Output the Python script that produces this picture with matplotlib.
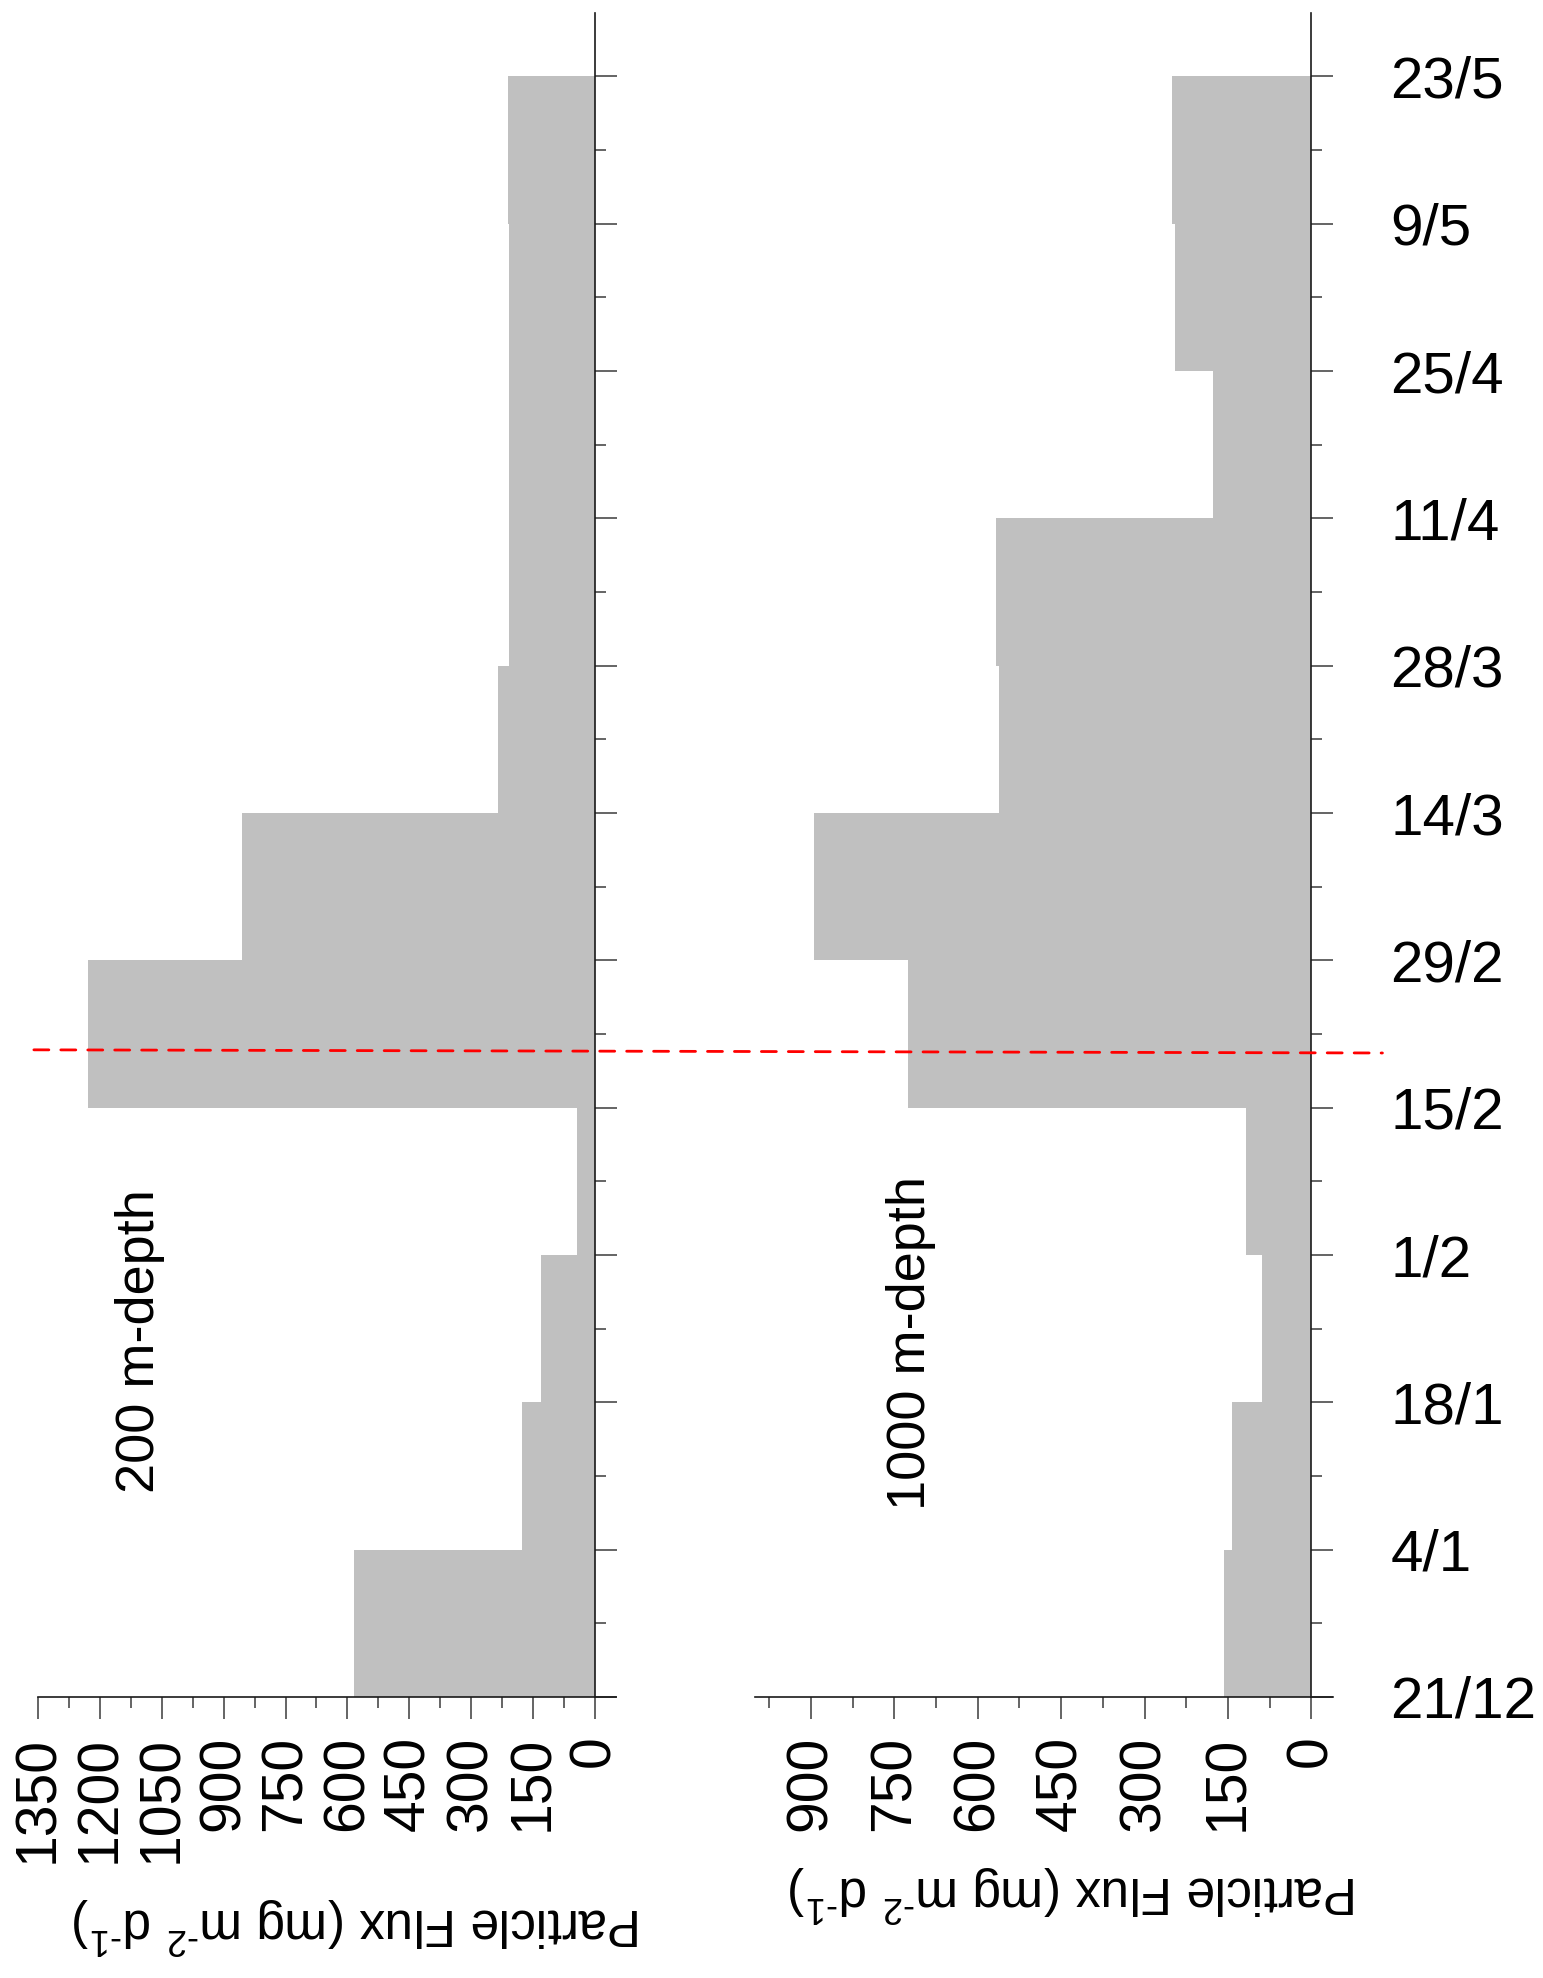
import numpy as np
import matplotlib
matplotlib.use("Agg")
import matplotlib.pyplot as plt
from matplotlib.ticker import MultipleLocator, FixedLocator
from matplotlib.patches import ConnectionPatch

plt.rcParams['font.family'] = ['Liberation Sans', 'DejaVu Sans']
plt.rcParams['mathtext.fontset'] = 'custom'
plt.rcParams['mathtext.rm'] = 'Liberation Sans'
plt.rcParams['mathtext.it'] = 'Liberation Sans:italic'
plt.rcParams['mathtext.bf'] = 'Liberation Sans:bold'

# ---------------- data ----------------
period_starts = ['2007-12-21', '2008-01-04', '2008-01-18', '2008-02-01', '2008-02-15',
                 '2008-02-29', '2008-03-14', '2008-03-28', '2008-04-11', '2008-04-25',
                 '2008-05-09']
tick_dates = period_starts + ['2008-05-23']
flux_200m = [585, 177, 130, 43, 1230, 855, 235, 208, 208, 208, 210]
flux_1000m = [157, 143, 88, 117, 725, 895, 562, 567, 176, 245, 250]
panel_labels = ['200 m-depth', '1000 m-depth']
flux_ticks_200 = [0, 150, 300, 450, 600, 750, 900, 1050, 1200, 1350]
flux_ticks_1000 = [0, 150, 300, 450, 600, 750, 900]
# red dashed marker line (days since first tick date), left end / right end
red_line_days = (61.5, 61.2)
red_line_flux = (1361, -128)

t0 = np.datetime64(tick_dates[0])
tick_days = [(np.datetime64(d) - t0).astype(int) for d in tick_dates]
start_days = [(np.datetime64(d) - t0).astype(int) for d in period_starts]
widths = [b - a for a, b in zip(tick_days[:-1], tick_days[1:])]
tick_labels = []
for d in tick_dates:
    y, m, dd = d.split('-')
    tick_labels.append(f"{int(dd)}/{int(m)}")

W, H = 1543, 1978
fig = plt.figure(figsize=(W / 100, H / 100), dpi=100)

bottom = 1 - 1697 / H
height = (1697 - 13.3) / H
ax1 = fig.add_axes([38.4 / W, bottom, (616 - 38.4) / W, height])
ax2 = fig.add_axes([755.4 / W, bottom, (1333.3 - 755.4) / W, height])

bar_color = '#c0c0c0'
spine_col = '#1a1a1a'
tick_col = '#3a3a3a'

xlabel = r'Particle Flux (mg m$^{\text{-2}}$ d$^{\text{-1}}$)'

for ax, vals, xl, ticks, lab, txy in [
        (ax1, flux_200m, (1350, -52), flux_ticks_200, panel_labels[0], (1104, 33.8)),
        (ax2, flux_1000m, (1000, -39.6), flux_ticks_1000, panel_labels[1], (720, 33.6))]:
    ax.barh(start_days, vals, height=widths, left=0, align='edge',
            color=bar_color, edgecolor='none', linewidth=0, zorder=1)
    ax.set_xlim(*xl)
    ax.set_ylim(tick_days[0], tick_days[-1] + 6)
    for s in ['top', 'left']:
        ax.spines[s].set_visible(False)
    ax.spines['right'].set_position(('data', 0))
    ax.spines['bottom'].set_position(('data', tick_days[0]))
    for s in ['right', 'bottom']:
        ax.spines[s].set_color(spine_col)
        ax.spines[s].set_linewidth(1.2)
        ax.spines[s].set_zorder(3)
    ax.yaxis.set_ticks_position('right')
    ax.xaxis.set_ticks_position('bottom')
    ax.xaxis.set_major_locator(FixedLocator(ticks))
    ax.xaxis.set_minor_locator(MultipleLocator(75))
    ax.set_xticklabels([str(t) for t in ticks], rotation=90)
    ax.yaxis.set_major_locator(FixedLocator(tick_days))
    ax.yaxis.set_minor_locator(FixedLocator([d + 7 for d in tick_days[:-1]]))
    ax.tick_params(axis='both', which='major', direction='out', length=15.8,
                   width=1.1, color=tick_col)
    ax.tick_params(axis='both', which='minor', direction='out', length=7.9,
                   width=1.1, color=tick_col)
    ax.tick_params(axis='x', which='major', labelsize=41, pad=12)
    ax.set_xlabel(xlabel, fontsize=37, rotation=180)
    ax.text(txy[0], txy[1], lab, rotation=90, ha='center', va='center', fontsize=39)
    ax.patch.set_visible(False)

ax1.xaxis.set_label_coords(0.552, -198 / (height * H))
ax2.xaxis.set_label_coords(0.5506, -166 / (height * H))

ax1.set_yticklabels([])
ax2.set_yticklabels(tick_labels)
ax2.tick_params(axis='y', which='major', labelsize=42, pad=41)

con = ConnectionPatch(xyA=(red_line_flux[0], red_line_days[0]), coordsA=ax1.transData,
                      xyB=(red_line_flux[1], red_line_days[1]), coordsB=ax2.transData,
                      color='red', linewidth=2.0, linestyle=(0, (5.4, 4.3)), zorder=10)
con.set_clip_on(False)
fig.add_artist(con)

fig.savefig('out.png', dpi=100, facecolor='white')
